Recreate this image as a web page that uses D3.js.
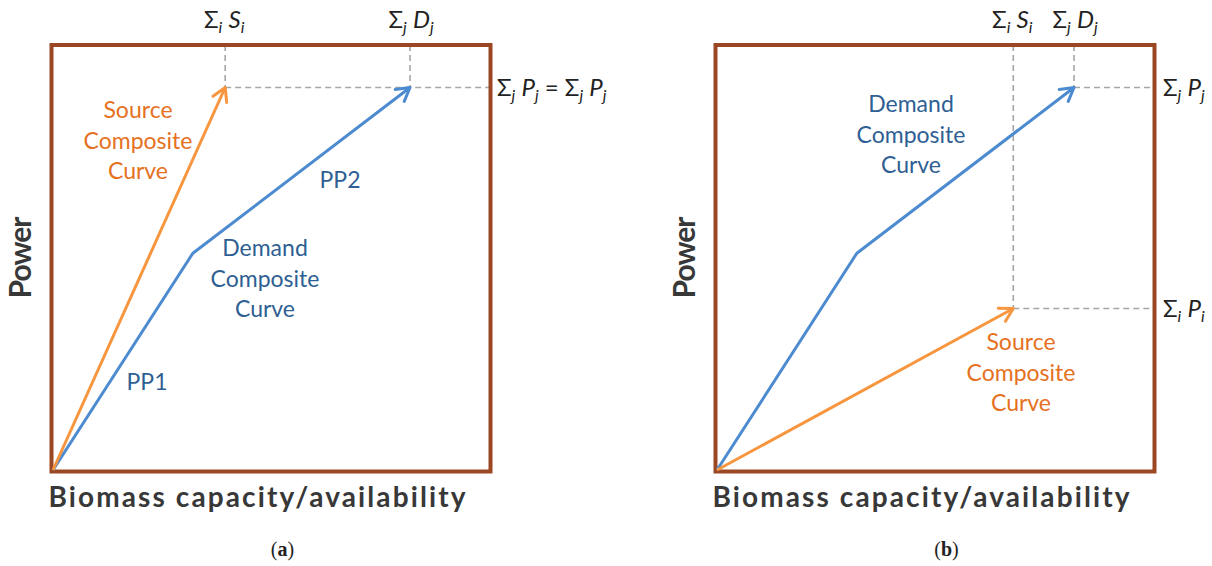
<!DOCTYPE html>
<html>
<head>
<meta charset="utf-8">
<script src="https://cdn.jsdelivr.net/npm/d3@7/dist/d3.min.js"></script>
<style>
  html, body { margin: 0; padding: 0; background: #fff; }
  svg { display: block; }
</style>
</head>
<body>
<svg id="chart" width="1212" height="566"></svg>
<script>
// Composite curves: power (y) against biomass capacity/availability (x), both on a 0–100 scale.
const panelIds = ["a", "b"];

// Demand composite curve (PP1 then PP2), same in both panels
const demandX = [0, 32, 81.7];
const demandY = [0, 51, 90];

// Source composite curve, one straight segment per panel
const sourceXA = [0, 39.4];
const sourceYA = [0, 90];
const sourceXB = [0, 67.8];
const sourceYB = [0, 38];

const xTitle = "Biomass capacity/availability";
const yTitle = "Power";

const W = 437, H = 425;
const x = d3.scaleLinear().domain([0, 100]).range([0, W]);
const y = d3.scaleLinear().domain([0, 100]).range([H, 0]);

const C = {
  box: "#9B4723",
  blueLine: "#4D8BD0",
  orangeLine: "#F7963F",
  blueText: "#2F5F93",
  orangeText: "#E5711F",
  dash: "#A6A6A6",
  title: "#383838"
};
const bodyFont = "Lato, 'Open Sans', sans-serif";

const svg = d3.select("#chart");
const defs = svg.append("defs");
[["arrow-blue", C.blueLine], ["arrow-orange", C.orangeLine]].forEach(([id, col]) => {
  defs.append("marker")
    .attr("id", id)
    .attr("viewBox", "-16 -10 18 20")
    .attr("refX", 0).attr("refY", 0)
    .attr("markerWidth", 18).attr("markerHeight", 20)
    .attr("markerUnits", "userSpaceOnUse")
    .attr("orient", "auto")
    .append("path")
    .attr("d", "M-13,-7.5 L0,0 L-13,7.5")
    .attr("fill", "none")
    .attr("stroke", col)
    .attr("stroke-width", 3)
    .attr("stroke-linecap", "round")
    .attr("stroke-linejoin", "round");
});

const line = d3.line().x(d => x(d[0])).y(d => y(d[1]));
const zipXY = (xs, ys) => xs.map((v, i) => [v, ys[i]]);

// Subscripted math label: parts of [text, italic, subscript]
function mathLabel(g, px, py, parts, anchor) {
  const t = g.append("text")
    .attr("x", px).attr("y", py)
    .attr("text-anchor", anchor || "start")
    .attr("font-family", bodyFont)
    .attr("font-size", 24)
    .attr("fill", "#222");
  let shifted = false;
  parts.forEach(([s, it, sub]) => {
    const sp = t.append("tspan").text(s)
      .attr("font-style", it ? "italic" : "normal");
    if (sub) sp.attr("font-size", 16);
    if (sub && !shifted) { sp.attr("dy", 5); shifted = true; }
    else if (!sub && shifted) { sp.attr("dy", -5); shifted = false; }
  });
  return t;
}

function multiLine(g, cx, cy, lines, color) {
  const t = g.append("text")
    .attr("text-anchor", "middle")
    .attr("font-family", bodyFont)
    .attr("font-size", 23)
    .attr("fill", color);
  lines.forEach((s, i) => {
    t.append("tspan").attr("x", cx).attr("y", cy + i * 30.5).text(s);
  });
}

function drawPanel(id, gx, sourceX, sourceY) {
  const g = svg.append("g").attr("transform", `translate(${gx},45)`);
  const src = zipXY(sourceX, sourceY);
  const dem = zipXY(demandX, demandY);
  const srcEnd = src[src.length - 1];
  const demEnd = dem[dem.length - 1];

  // dashed guide lines up to the top edge and across to the right edge
  const dashes = g.append("g")
    .attr("stroke", C.dash).attr("stroke-width", 1.6)
    .attr("stroke-dasharray", "6,4").attr("fill", "none");
  const ends = [srcEnd, demEnd];
  ends.forEach(p => {
    dashes.append("line").attr("x1", x(p[0])).attr("x2", x(p[0]))
      .attr("y1", 0).attr("y2", y(p[1]));
  });
  // one horizontal guide per distinct power level, from its leftmost end
  d3.groups(ends, p => p[1]).forEach(([lvl, pts]) => {
    const x0 = d3.min(pts, p => p[0]);
    dashes.append("line").attr("x1", x(x0)).attr("x2", W)
      .attr("y1", y(lvl)).attr("y2", y(lvl));
  });

  // frame
  g.append("rect")
    .attr("x", -1.5).attr("y", 0)
    .attr("width", W + 2).attr("height", H + 1.5)
    .attr("fill", "none").attr("stroke", C.box).attr("stroke-width", 4);

  g.append("path").datum(dem).attr("d", line)
    .attr("fill", "none").attr("stroke", C.blueLine).attr("stroke-width", 3)
    .attr("stroke-linejoin", "round")
    .attr("marker-end", "url(#arrow-blue)");
  g.append("path").datum(src).attr("d", line)
    .attr("fill", "none").attr("stroke", C.orangeLine).attr("stroke-width", 3)
    .attr("marker-end", "url(#arrow-orange)");

  // top annotations
  mathLabel(g, x(srcEnd[0]) - 1, -17, [["Σ"], ["i", true, true], [" "], ["S", true], ["i", true, true]], "middle");
  mathLabel(g, x(demEnd[0]) + 1, -17, [["Σ"], ["j", true, true], [" "], ["D", true], ["j", true, true]], "middle");

  // axis titles
  g.append("text")
    .attr("transform", `translate(-22,${H / 2}) rotate(-90)`)
    .attr("text-anchor", "middle")
    .attr("font-family", bodyFont).attr("font-weight", "bold")
    .attr("font-size", 30).attr("fill", C.title)
    .attr("textLength", 82).attr("lengthAdjust", "spacing")
    .text(yTitle);
  g.append("text")
    .attr("x", W / 2 - 14.5).attr("y", H + 37)
    .attr("text-anchor", "middle")
    .attr("font-family", bodyFont).attr("font-weight", "bold")
    .attr("font-size", 28).attr("fill", C.title)
    .attr("textLength", 417).attr("lengthAdjust", "spacing")
    .text(xTitle);

  // panel tag
  const tag = g.append("text")
    .attr("x", W / 2 + 11).attr("y", H + 86)
    .attr("text-anchor", "middle")
    .attr("font-family", "'Liberation Serif', serif")
    .attr("font-size", 20).attr("fill", "#222");
  tag.append("tspan").text("(");
  tag.append("tspan").attr("font-weight", "bold").text(id);
  tag.append("tspan").text(")");
  return { g, srcEnd, demEnd };
}

// Panel (a): source reaches the same power with less capacity
const pa = drawPanel(panelIds[0], 53, sourceXA, sourceYA);
mathLabel(pa.g, W + 7, y(pa.demEnd[1]) + 8,
  [["Σ"], ["j", true, true], [" "], ["P", true], ["j", true, true], [" = "], ["Σ"], ["j", true, true], [" "], ["P", true], ["j", true, true]]);
multiLine(pa.g, 85, 73, ["Source", "Composite", "Curve"], C.orangeText);
multiLine(pa.g, 212, 211, ["Demand", "Composite", "Curve"], C.blueText);
multiLine(pa.g, 287, 143, ["PP2"], C.blueText);
multiLine(pa.g, 94, 345, ["PP1"], C.blueText);

// Panel (b): source power falls short of demand power
const pb = drawPanel(panelIds[1], 717, sourceXB, sourceYB);
mathLabel(pb.g, W + 9, y(pb.demEnd[1]) + 8,
  [["Σ"], ["j", true, true], [" "], ["P", true], ["j", true, true]]);
mathLabel(pb.g, W + 9, y(pb.srcEnd[1]) + 8,
  [["Σ"], ["i", true, true], [" "], ["P", true], ["i", true, true]]);
multiLine(pb.g, 194, 67, ["Demand", "Composite", "Curve"], C.blueText);
multiLine(pb.g, 304, 305, ["Source", "Composite", "Curve"], C.orangeText);
</script>
</body>
</html>
